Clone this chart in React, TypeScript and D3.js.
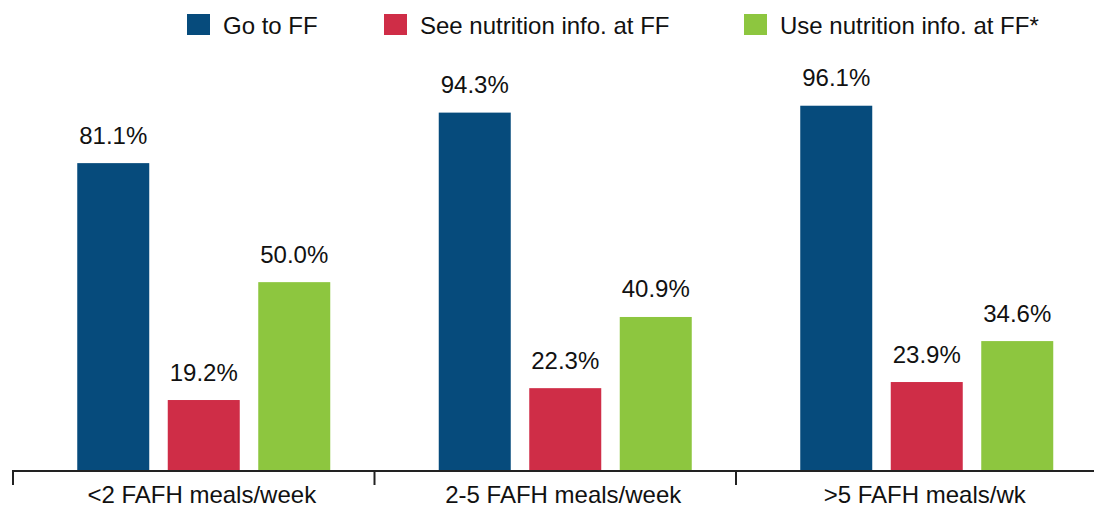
import React from 'react';
import { scaleBand, scaleLinear } from 'd3';

// groups along the x axis
const groups = ['<2 FAFH meals/week', '2-5 FAFH meals/week', '>5 FAFH meals/wk'];

// series (legend order)
const seriesNames = ['Go to FF', 'See nutrition info. at FF', 'Use nutrition info. at FF*'];
const seriesColors = ['#064b7c', '#cf2d47', '#8dc63f'];

// values in percent, one array per series, in group order
const goToFF = [81.1, 94.3, 96.1];
const seeNutrition = [19.2, 22.3, 23.9];
const useNutrition = [50.0, 40.9, 34.6];

const seriesValues = [goToFF, seeNutrition, useNutrition];

const width = 1094;
const height = 508;
const font = '"Liberation Sans", Arial, Helvetica, sans-serif';
const fontSize = 24;
const textColor = '#111';

const axisY = 471;
const legendX = [187, 384, 744];

function App() {
    // outer band per group, inner band per series
    const x0 = scaleBand<string>()
        .domain(groups)
        .range([23, 23 + 361.5 * groups.length])
        .paddingInner(0)
        .paddingOuter(0);

    const x1 = scaleBand<string>()
        .domain(seriesNames)
        .range([0, 253])
        .paddingInner(0.2044)
        .paddingOuter(0);

    const y = scaleLinear().domain([0, 100]).range([473.5, 90.8]);

    const groupOffset = (x0.bandwidth() - 253) / 2;

    return (
        <svg
            width={width}
            height={height}
            style={{ position: 'absolute', left: 0, top: 0, background: '#fff' }}
            fontFamily={font}
        >
            {/* legend */}
            {seriesNames.map((name, i) => (
                <g key={name} transform={`translate(${legendX[i]},0)`}>
                    <rect x={0} y={14} width={23} height={21} fill={seriesColors[i]} />
                    <text x={36} y={33.5} fontSize={fontSize} fill={textColor}>{name}</text>
                </g>
            ))}

            {/* bars + value labels */}
            {groups.map((g, gi) => (
                <g key={g} transform={`translate(${(x0(g) as number) + groupOffset},0)`}>
                    {seriesNames.map((s, si) => {
                        const v = seriesValues[si][gi];
                        const bx = x1(s) as number;
                        const top = y(v);
                        return (
                            <g key={s}>
                                <rect
                                    x={bx}
                                    y={top}
                                    width={x1.bandwidth()}
                                    height={axisY - 1 - top}
                                    fill={seriesColors[si]}
                                />
                                <text
                                    x={bx + x1.bandwidth() / 2}
                                    y={top - 19.5}
                                    textAnchor="middle"
                                    fontSize={fontSize}
                                    fill={textColor}
                                >
                                    {v.toFixed(1)}%
                                </text>
                            </g>
                        );
                    })}
                </g>
            ))}

            {/* x axis */}
            <line x1={12} x2={width} y1={axisY} y2={axisY} stroke="#222" strokeWidth={2} />
            {groups.map((g) => (
                <line
                    key={'tick' + g}
                    x1={(x0(g) as number) - 10}
                    x2={(x0(g) as number) - 10}
                    y1={axisY}
                    y2={485}
                    stroke="#222"
                    strokeWidth={2}
                />
            ))}
            {groups.map((g) => (
                <text
                    key={'lbl' + g}
                    x={(x0(g) as number) + x0.bandwidth() / 2 - 2}
                    y={503}
                    textAnchor="middle"
                    fontSize={fontSize}
                    fill={textColor}
                >
                    {g}
                </text>
            ))}
        </svg>
    );
}

export default App;
